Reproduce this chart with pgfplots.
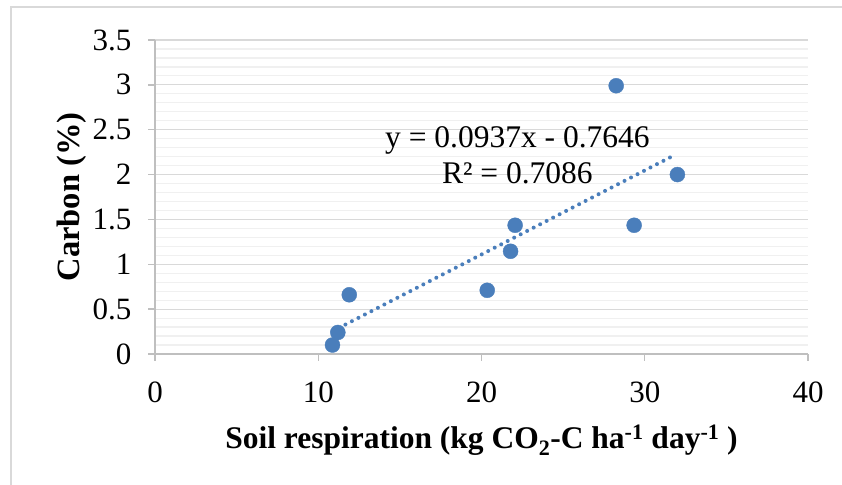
\documentclass[border=0pt]{standalone}
\usepackage{fontspec}
\setmainfont{Liberation Serif}
\usepackage{pgfplots}
\pgfplotsset{compat=1.18}
\definecolor{ptblue}{RGB}{74,126,187}
\definecolor{majgrid}{RGB}{217,217,217}
\definecolor{mingrid}{RGB}{240,240,240}
\definecolor{axgray}{RGB}{191,191,191}
\definecolor{framegray}{RGB}{217,217,217}

\begin{document}
\begin{tikzpicture}
\useasboundingbox (0pt,0pt) rectangle (842pt,484pt);
\draw[framegray, line width=1.3pt] (11pt,-10pt) -- (11pt,477pt) -- (860pt,477pt);
\begin{axis}[
  at={(155pt,130pt)}, anchor=south west,
  scale only axis,
  width=653pt, height=314pt,
  xmin=0, xmax=40, ymin=0, ymax=3.5,
  xtick={0,10,20,30,40},
  xticklabels={0,10,20,30,40},
  ytick={0,0.5,1,1.5,2,2.5,3,3.5},
  yticklabels={0,0.5,1,1.5,2,2.5,3,3.5},
  minor y tick num=4,
  ymajorgrids=true, yminorgrids=true,
  major grid style={majgrid, line width=1.2pt},
  minor grid style={mingrid, line width=1.2pt},
  axis x line*=bottom, axis y line*=left,
  axis line style={axgray, line width=1.3pt, -},
  tick align=outside,
  major tick length=7pt, minor tick length=0pt,
  tick style={axgray, line width=1.3pt},
  /pgf/number format/assume math mode=true,
  tick label style={font=\fontsize{31}{33}\selectfont},
  yticklabel style={xshift=-13pt},
  xticklabel style={yshift=-17pt},
  xlabel={\textbf{Soil respiration (kg CO\textsubscript{2}-C ha\textsuperscript{-1} day\textsuperscript{-1} )}},
  ylabel={\textbf{Carbon (\%)}},
  label style={font=\fontsize{31.5}{33}\selectfont},
  xlabel style={at={(axis description cs:0.5,-0.3025)}, anchor=base},
  ylabel style={at={(axis description cs:-0.127,0.5)}, anchor=center,
    font=\fontsize{32.5}{34}\selectfont},
  clip=false,
]
\addplot[only marks, mark=*, mark size=7.5pt,
  mark options={fill=ptblue, draw=ptblue}] coordinates {
  (10.87,0.10) (11.20,0.24) (11.90,0.66) (20.35,0.71) (21.78,1.145)
  (22.06,1.435) (29.35,1.435) (28.25,2.99) (32.00,2.00)
};
\addplot[ptblue, line width=4pt, dash pattern=on 0pt off 7.3pt, line cap=round]
  coordinates {(10.87,0.254) (31.75,2.210)};
\node[align=center, font=\fontsize{31.5}{36}\selectfont, anchor=base]
  at (axis cs:22.2,1.906) {y = 0.0937x - 0.7646\\R² = 0.7086};
\end{axis}
\end{tikzpicture}
\end{document}
